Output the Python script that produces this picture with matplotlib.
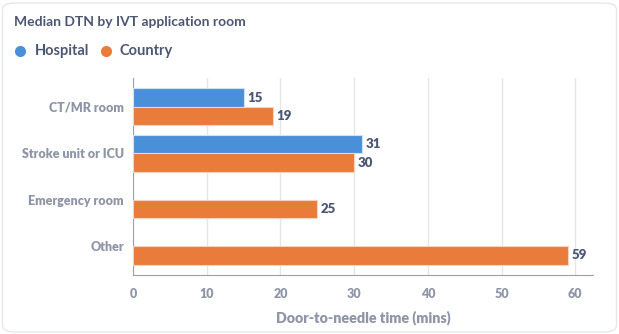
import numpy as np
import matplotlib.pyplot as plt
from matplotlib.patches import FancyBboxPatch
from matplotlib.lines import Line2D

plt.rcParams['font.family'] = ['Lato', 'DejaVu Sans']

categories = ['CT/MR room', 'Stroke unit or ICU', 'Emergency room', 'Other']
hospital = [15, 31, np.nan, np.nan]
country = [19, 30, 25, 59]
xticks = [0, 10, 20, 30, 40, 50, 60]

blue = '#4a90d9'
orange = '#e97b3b'
dark = '#4c5773'
gray = '#8e95a6'

fig = plt.figure(figsize=(6.19, 3.34), dpi=100)
card = FancyBboxPatch((0.004, 0.006), 0.992, 0.985, boxstyle='round,pad=0,rounding_size=0.02',
                      transform=fig.transFigure, facecolor='white', edgecolor='#e6e8ec', lw=1, zorder=-5)
fig.patches.append(card)
ax = fig.add_axes([133 / 619, 1 - 275 / 334, (593 - 133) / 619, (275 - 78) / 334])
ax.patch.set_alpha(0)

y = np.arange(len(categories))
h = 0.4
ax.barh(y - h / 2, hospital, height=h, color=blue, edgecolor='#cfe2f6', lw=0.8, zorder=3)
ax.barh(y + h / 2, country, height=h, color=orange, edgecolor='#f7d3bd', lw=0.8, zorder=3)

for i in range(len(categories)):
    if not np.isnan(hospital[i]):
        ax.text(hospital[i] + 0.5, y[i] - h / 2, str(hospital[i]), va='center', ha='left',
                fontsize=9.5, fontweight='heavy', color=dark)
    ax.text(country[i] + 0.5, y[i] + h / 2, str(country[i]), va='center', ha='left',
            fontsize=9.5, fontweight='heavy', color=dark)

ax.set_ylim(3.62, -0.62)
ax.set_xlim(0, 62.4)
ax.set_yticks(y)
ax.set_yticklabels(categories)
ax.set_xticks(xticks)
ax.set_xticklabels([str(t) for t in xticks])
for lab in ax.get_xticklabels() + ax.get_yticklabels():
    lab.set_fontsize(9)
    lab.set_fontweight('heavy')
    lab.set_color(gray)
ax.tick_params(axis='both', length=0)
ax.tick_params(axis='x', pad=9)
ax.tick_params(axis='y', pad=6.5)
ax.grid(axis='x', color='#e6e6e6', lw=1, zorder=0)
for s in ['top', 'right']:
    ax.spines[s].set_visible(False)
ax.spines['left'].set_color('#9aa0ad')
ax.spines['bottom'].set_color('#9aa0ad')
ax.set_xlabel('Door-to-needle time (mins)', fontsize=10.3, fontweight='heavy', color=gray, labelpad=8)

fig.text(14 / 619, 1 - 22 / 334, 'Median DTN by IVT application room', fontsize=10,
         fontweight='bold', color=dark, va='center', ha='left')
for cx, col in [(20, blue), (106, orange)]:
    fig.add_artist(Line2D([cx / 619], [1 - 51 / 334], transform=fig.transFigure, marker='o',
                          markersize=8, color=col, markeredgewidth=0, linestyle='none'))
fig.text(35 / 619, 1 - 51 / 334, 'Hospital', fontsize=10.5, fontweight='bold', color=dark, va='center', ha='left')
fig.text(120 / 619, 1 - 51 / 334, 'Country', fontsize=10.5, fontweight='bold', color=dark, va='center', ha='left')

fig.savefig('out.png', dpi=100)
